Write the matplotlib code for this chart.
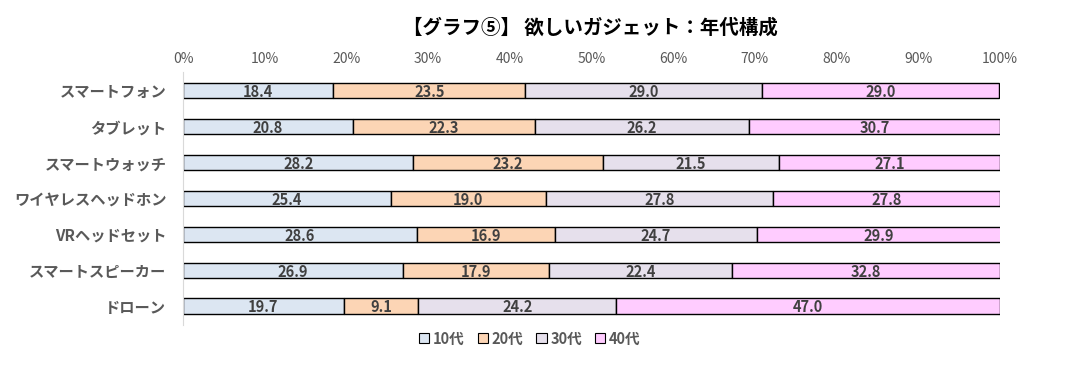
import numpy as np
import matplotlib.pyplot as plt
from matplotlib.patches import Patch

plt.rcParams['font.family'] = ['Noto Sans CJK JP', 'DejaVu Sans']

categories = ["スマートフォン", "タブレット", "スマートウォッチ", "ワイヤレスヘッドホン",
              "VRヘッドセット", "スマートスピーカー", "ドローン"]
age_groups = ["10代", "20代", "30代", "40代"]
teens = [18.4, 20.8, 28.2, 25.4, 28.6, 26.9, 19.7]
twenties = [23.5, 22.3, 23.2, 19.0, 16.9, 17.9, 9.1]
thirties = [29.0, 26.2, 21.5, 27.8, 24.7, 22.4, 24.2]
forties = [29.0, 30.7, 27.1, 27.8, 29.9, 32.8, 47.0]
colors = ["#dce6f2", "#fcd5b5", "#e6e0ec", "#ffccff"]

def main():
    fig = plt.figure(figsize=(10.81, 3.71), dpi=100)
    ax = fig.add_axes([0.1693, 0.124, 0.7558, 0.682])

    y = np.arange(len(categories))
    left = np.zeros(len(categories))
    series = [teens, twenties, thirties, forties]
    for vals, col in zip(series, colors):
        vals = np.array(vals)
        ax.barh(y, vals, left=left, height=0.42, color=col, edgecolor="black", linewidth=1)
        for yi, l, v in zip(y, left, vals):
            ax.text(l + v / 2, yi + 0.04, f"{v:.1f}", ha="center", va="center",
                    fontsize=10.5, color="#404040", fontweight="bold")
        left = left + vals

    ax.set_xlim(0, 100)
    ax.set_ylim(6.53, -0.53)
    ax.set_xticks(np.arange(0, 101, 10))
    ax.set_xticklabels([f"{t}%" for t in range(0, 101, 10)], color="#595959", fontsize=10)
    ax.xaxis.tick_top()
    ax.tick_params(axis="x", length=0, pad=4)
    ax.set_yticks(y)
    ax.set_yticklabels(categories, fontsize=11, fontweight="bold", color="#595959")
    ax.tick_params(axis="y", length=0, pad=12)
    for s in ["top", "right", "bottom"]:
        ax.spines[s].set_visible(False)
    ax.spines["left"].set_color("#d9d9d9")

    fig.text(0.546, 0.925, "【グラフ⑤】 欲しいガジェット：年代構成", ha="center", va="center",
             fontsize=14, fontweight="bold", color="black")

    handles = [Patch(facecolor=c, edgecolor="black", linewidth=0.8) for c in colors]
    fig.legend(handles, age_groups, loc="center", bbox_to_anchor=(0.49, 0.088), ncol=4,
               frameon=False, handlelength=0.7, handleheight=0.7,
               handletextpad=0.25, columnspacing=0.9, prop={"weight": "bold", "size": 10.5})
    for t in fig.legends[0].get_texts():
        t.set_color("#595959")

    fig.savefig("out.png", dpi=100)

main()
